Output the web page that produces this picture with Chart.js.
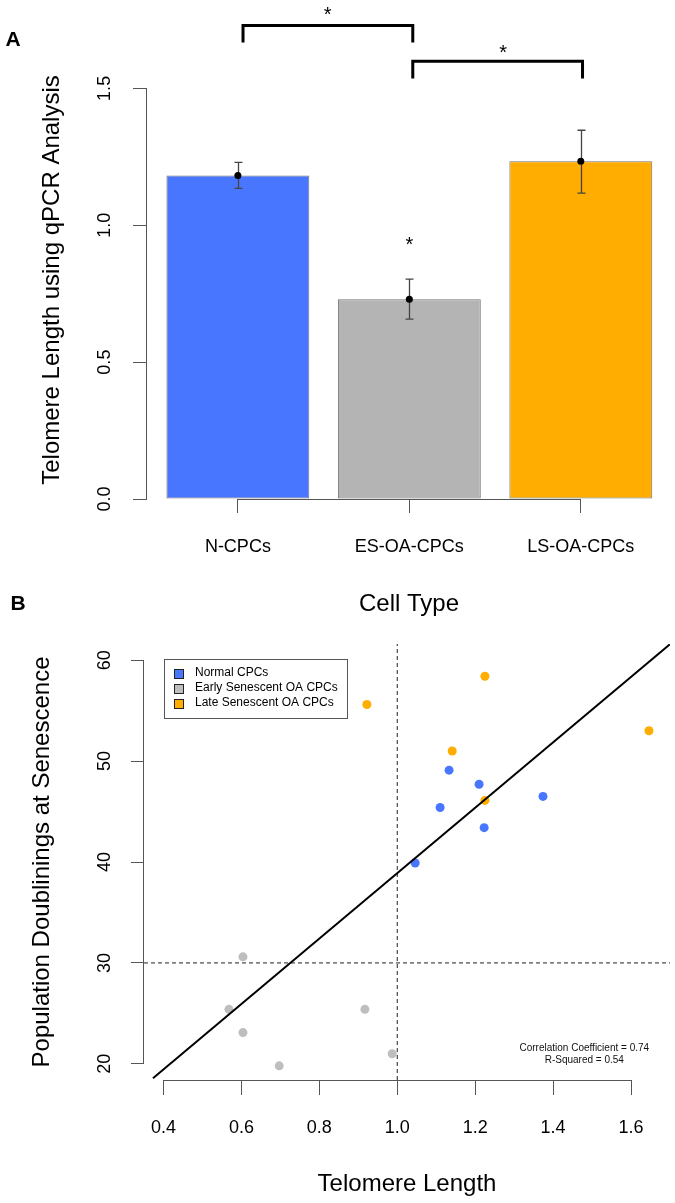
<!DOCTYPE html>
<html>
<head>
<meta charset="utf-8">
<script src="https://cdn.jsdelivr.net/npm/chart.js@4.4.1/dist/chart.umd.min.js"></script>
<style>
  html, body { margin: 0; padding: 0; background: #fff; overflow: hidden; }
  body { width: 675px; height: 1203px; position: relative; }
  canvas { position: absolute; left: 0; }
  #barChart { top: 0; }
  #scatterChart { top: 580px; }
</style>
</head>
<body>
<canvas id="barChart" width="675" height="640"></canvas>
<canvas id="scatterChart" width="675" height="623"></canvas>
<script>
const FONT = "'Liberation Sans', Arial, Helvetica, sans-serif";

// ---- Panel A: telomere length by cell type ----
const cellTypes = ['N-CPCs', 'ES-OA-CPCs', 'LS-OA-CPCs'];
const meanLength = [1.182, 0.730, 1.234];
const errLow = [1.135, 0.657, 1.117];
const errHigh = [1.230, 0.803, 1.347];
const barColors = ['#4876FF', '#B4B4B4', '#FFAD00'];
const barTicks = [0, 0.5, 1.0, 1.5];
// significance brackets: from bar, to bar, top value, leg end value
const sigBrackets = [[0.03, 1.02, 1.730, 1.668], [1.02, 2.01, 1.599, 1.536]];
// stars: bar position, value
const sigStars = [[0.523, 1.788], [1.547, 1.650], [1, 0.949]];

// ---- Panel B: telomere length vs population doublings ----
const normalX = [1.046, 1.110, 1.133, 1.210, 1.223, 1.374];
const normalY = [39.9, 45.4, 49.1, 47.7, 43.4, 46.5];
const earlyX = [0.604, 0.568, 0.604, 0.697, 0.917, 0.987];
const earlyY = [30.6, 25.4, 23.1, 19.8, 25.4, 21.0];
const lateX = [0.922, 1.141, 1.225, 1.225, 1.646];
const lateY = [55.6, 51.0, 58.4, 46.1, 53.0];
const fitX = [0.373, 1.700];
const fitY = [18.57, 61.58];
const cutX = 1.0;
const cutY = 30;
const xTicksB = [0.4, 0.6, 0.8, 1.0, 1.2, 1.4, 1.6];
const yTicksB = [20, 30, 40, 50, 60];
const statLines = ['Correlation Coefficient = 0.74', 'R-Squared = 0.54'];
const statAt = [1.48, 21.55, 20.35];

// axis lines only between first and last tick, like R's axis()
const axisLines = {
  id: 'axisLines',
  afterDraw(chart) {
    const {ctx, chartArea, scales: {x, y}} = chart;
    ctx.save();
    ctx.strokeStyle = '#555';
    ctx.lineWidth = 1;
    ctx.beginPath();
    const lx = Math.round(chartArea.left) - 0.5;
    ctx.moveTo(lx, y.getPixelForValue(y.ticks[0].value));
    ctx.lineTo(lx, y.getPixelForValue(y.ticks[y.ticks.length - 1].value));
    const by = Math.round(chartArea.bottom) + 0.5;
    ctx.moveTo(x.getPixelForValue(x.ticks[0].value), by);
    ctx.lineTo(x.getPixelForValue(x.ticks[x.ticks.length - 1].value), by);
    ctx.stroke();
    ctx.restore();
  }
};

function panelLetter(ctx, text, cx, cy) {
  ctx.save();
  ctx.fillStyle = '#000';
  ctx.font = 'bold 21px ' + FONT;
  ctx.textAlign = 'center';
  ctx.textBaseline = 'middle';
  ctx.fillText(text, cx, cy);
  ctx.restore();
}

function star(ctx, px, py) {
  ctx.save();
  ctx.fillStyle = '#000';
  ctx.font = '20px ' + FONT;
  ctx.textAlign = 'center';
  ctx.textBaseline = 'alphabetic';
  ctx.fillText('*', px, py + 11.5);
  ctx.restore();
}

const barExtras = {
  id: 'barExtras',
  afterDatasetDraw(chart, args) {
    if (args.meta.type !== 'bar') return;
    const {ctx, scales: {x, y}} = chart;
    ctx.save();
    ctx.strokeStyle = '#444';
    ctx.lineWidth = 1.3;
    cellTypes.forEach((c, i) => {
      const px = Math.round(x.getPixelForValue(i)) + 0.5;
      const y1 = y.getPixelForValue(errLow[i]);
      const y2 = y.getPixelForValue(errHigh[i]);
      ctx.beginPath();
      ctx.moveTo(px, y1); ctx.lineTo(px, y2);
      ctx.moveTo(px - 4, y1); ctx.lineTo(px + 4, y1);
      ctx.moveTo(px - 4, y2); ctx.lineTo(px + 4, y2);
      ctx.stroke();
    });
    ctx.restore();
  },
  afterDraw(chart) {
    const {ctx, scales: {x, y}} = chart;
    ctx.save();
    ctx.strokeStyle = '#000';
    ctx.lineWidth = 3;
    ctx.lineJoin = 'miter';
    sigBrackets.forEach(b => {
      const x1 = x.getPixelForValue(b[0]);
      const x2 = x.getPixelForValue(b[1]);
      const yt = y.getPixelForValue(b[2]);
      const yb = y.getPixelForValue(b[3]);
      ctx.beginPath();
      ctx.moveTo(x1, yb); ctx.lineTo(x1, yt); ctx.lineTo(x2, yt); ctx.lineTo(x2, yb);
      ctx.stroke();
    });
    ctx.restore();
    sigStars.forEach(s => star(ctx, x.getPixelForValue(s[0]), y.getPixelForValue(s[1])));
    panelLetter(ctx, 'A', 13, 40);
  }
};

new Chart(document.getElementById('barChart'), {
  type: 'bar',
  data: {
    datasets: [
      {
        type: 'scatter',
        data: cellTypes.map((c, i) => ({x: i, y: meanLength[i]})),
        pointRadius: 3.5,
        pointBackgroundColor: '#000',
        pointBorderWidth: 0,
        order: 0
      },
      {
        data: cellTypes.map((c, i) => ({x: i, y: meanLength[i]})),
        backgroundColor: barColors,
        borderColor: 'rgba(0,0,0,0.55)',
        borderWidth: 1,
        borderSkipped: false,
        barPercentage: 0.8333,
        categoryPercentage: 1,
        order: 1
      }
    ]
  },
  options: {
    responsive: false,
    animation: false,
    devicePixelRatio: 1,
    layout: {padding: {top: 61, right: 0, bottom: 0, left: 0}},
    plugins: {legend: {display: false}, tooltip: {enabled: false}},
    scales: {
      x: {
        type: 'linear',
        offset: false,
        min: -0.53,
        max: 2.526,
        afterBuildTicks: s => { s.ticks = cellTypes.map((c, i) => ({value: i})); },
        afterFit: s => { s.height = 141; },
        border: {display: false},
        grid: {offset: false, drawOnChartArea: false, tickLength: 14, color: '#555'},
        ticks: {
          callback: v => cellTypes[v],
          padding: 23,
          maxRotation: 0,
          color: '#000',
          font: {family: FONT, size: 18}
        },
        title: {
          display: true,
          text: 'Cell Type',
          color: '#000',
          font: {family: FONT, size: 24},
          padding: {top: 0, bottom: 21}
        }
      },
      y: {
        min: 0,
        max: 1.6,
        afterBuildTicks: s => { s.ticks = barTicks.map(v => ({value: v})); },
        afterFit: s => { s.width = 147; },
        border: {display: false},
        grid: {drawOnChartArea: false, tickLength: 14, color: '#555'},
        ticks: {
          callback: v => v.toFixed(1),
          minRotation: 90,
          maxRotation: 90,
          crossAlign: 'center',
          padding: 15.5,
          color: '#000',
          font: {family: FONT, size: 18}
        },
        title: {
          display: true,
          text: 'Telomere Length using qPCR Analysis',
          color: '#000',
          font: {family: FONT, size: 24},
          padding: {top: 38, bottom: 0}
        }
      }
    }
  },
  plugins: [axisLines, barExtras]
});

const scatterExtras = {
  id: 'scatterExtras',
  afterDraw(chart) {
    const {ctx, chartArea, scales: {x, y}} = chart;
    // legend box
    const lx = chartArea.left + 20;
    const ly = chartArea.top + 15;
    ctx.save();
    ctx.strokeStyle = '#555';
    ctx.lineWidth = 1;
    ctx.strokeRect(Math.round(lx) + 0.5, Math.round(ly) + 0.5, 183, 59);
    ctx.font = '12px ' + FONT;
    ctx.textBaseline = 'middle';
    ctx.textAlign = 'left';
    chart.data.datasets.slice(0, 3).forEach((ds, i) => {
      const cy = ly + 14 + i * 15;
      ctx.fillStyle = ds.backgroundColor;
      ctx.fillRect(Math.round(lx + 10) + 0.5, Math.round(cy - 4.5) + 0.5, 9, 9);
      ctx.strokeStyle = '#222';
      ctx.strokeRect(Math.round(lx + 10) + 0.5, Math.round(cy - 4.5) + 0.5, 9, 9);
      ctx.fillStyle = '#000';
      ctx.fillText(ds.label, lx + 31, cy);
    });
    // statistics note
    ctx.font = '10px ' + FONT;
    ctx.textAlign = 'center';
    ctx.fillStyle = '#111';
    ctx.fillText(statLines[0], x.getPixelForValue(statAt[0]), y.getPixelForValue(statAt[1]));
    ctx.fillText(statLines[1], x.getPixelForValue(statAt[0]), y.getPixelForValue(statAt[2]));
    ctx.restore();
    panelLetter(ctx, 'B', 18, 24);
  }
};

const pts = (xs, ys) => xs.map((v, i) => ({x: v, y: ys[i]}));
const yMinB = 18.4;
const yMaxB = 61.6;
const xMinB = 0.35;
const xMaxB = 1.70;

new Chart(document.getElementById('scatterChart'), {
  type: 'scatter',
  data: {
    datasets: [
      {label: 'Normal CPCs', data: pts(normalX, normalY), backgroundColor: '#4876FF', pointRadius: 4.5, pointBorderWidth: 0, order: 2},
      {label: 'Early Senescent OA CPCs', data: pts(earlyX, earlyY), backgroundColor: '#BEBEBE', pointRadius: 4.5, pointBorderWidth: 0, order: 2},
      {label: 'Late Senescent OA CPCs', data: pts(lateX, lateY), backgroundColor: '#FFAD00', pointRadius: 4.5, pointBorderWidth: 0, order: 2},
      {label: 'fit', data: pts(fitX, fitY), showLine: true, borderColor: '#000', borderWidth: 2, pointRadius: 0, order: 0},
      {label: 'cutX', data: [{x: cutX, y: yMinB}, {x: cutX, y: yMaxB}], showLine: true, borderColor: '#222', borderWidth: 1, borderDash: [4, 3], pointRadius: 0, order: 1},
      {label: 'cutY', data: [{x: xMinB, y: cutY}, {x: xMaxB, y: cutY}], showLine: true, borderColor: '#222', borderWidth: 1, borderDash: [4, 3], pointRadius: 0, order: 1}
    ]
  },
  options: {
    responsive: false,
    animation: false,
    devicePixelRatio: 1,
    layout: {padding: {top: 64, right: 5, bottom: 0, left: 0}},
    plugins: {legend: {display: false}, tooltip: {enabled: false}},
    scales: {
      x: {
        type: 'linear',
        min: xMinB,
        max: xMaxB,
        afterBuildTicks: s => { s.ticks = xTicksB.map(v => ({value: v})); },
        afterFit: s => { s.height = 123; },
        border: {display: false},
        grid: {drawOnChartArea: false, tickLength: 15, color: '#555'},
        ticks: {
          callback: v => v.toFixed(1),
          padding: 22,
          maxRotation: 0,
          color: '#000',
          font: {family: FONT, size: 18}
        },
        title: {
          display: true,
          text: 'Telomere Length',
          color: '#000',
          font: {family: FONT, size: 24},
          padding: {top: 0, bottom: 4}
        }
      },
      y: {
        min: yMinB,
        max: yMaxB,
        afterBuildTicks: s => { s.ticks = yTicksB.map(v => ({value: v})); },
        afterFit: s => { s.width = 144; },
        border: {display: false},
        grid: {drawOnChartArea: false, tickLength: 13, color: '#555'},
        ticks: {
          callback: v => String(v),
          minRotation: 90,
          maxRotation: 90,
          crossAlign: 'center',
          padding: 16,
          color: '#000',
          font: {family: FONT, size: 18}
        },
        title: {
          display: true,
          text: 'Population Doublinings at Senescence',
          color: '#000',
          font: {family: FONT, size: 24},
          padding: {top: 28, bottom: 0}
        }
      }
    }
  },
  plugins: [axisLines, scatterExtras]
});
</script>
</body>
</html>
